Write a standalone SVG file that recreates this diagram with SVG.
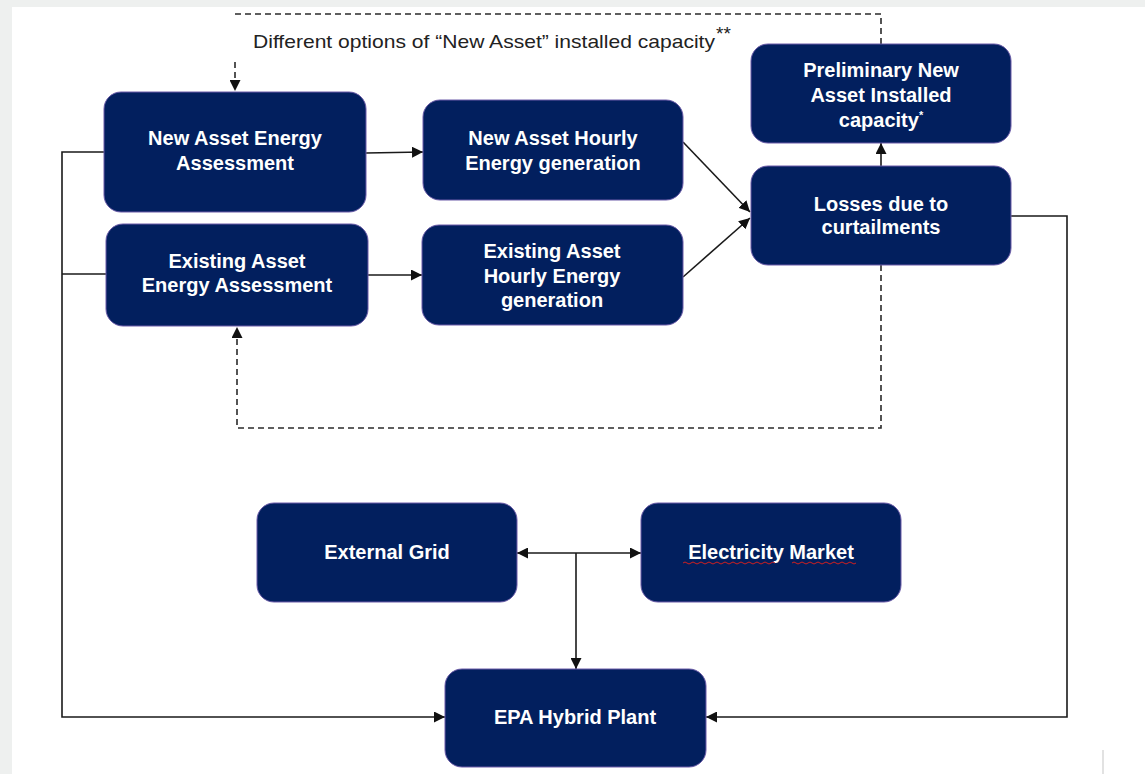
<svg xmlns="http://www.w3.org/2000/svg" width="1145" height="774" viewBox="0 0 1145 774">
<style>
.node rect{fill:#021f5e;stroke:#6a5aa8;stroke-width:1}
.node text{fill:#ffffff;font-family:"Liberation Sans",Arial,sans-serif;font-weight:bold;font-size:20px;text-anchor:middle}
.conn{fill:none;stroke:#1a1a1a;stroke-width:1.6}
.dash{fill:none;stroke:#2a2a2a;stroke-width:1.6;stroke-dasharray:6 4}
.label{fill:#222222;font-family:"Liberation Sans",Arial,sans-serif;font-size:19px}
</style>
<defs>
<marker id="ah" viewBox="0 0 10 10" refX="10" refY="5" markerWidth="11" markerHeight="11" markerUnits="userSpaceOnUse" orient="auto-start-reverse">
<path d="M0,0 L10,5 L0,10 Z" fill="#111111"/>
</marker>
</defs>
<rect x="0" y="0" width="1145" height="774" fill="#eef0ef"/>
<rect x="12" y="7" width="1133" height="767" fill="#ffffff"/>
<line x1="1103" y1="750" x2="1103" y2="774" stroke="#d8d8d8" stroke-width="1.5"/>

<g id="connectors">
<path class="dash" d="M881,44 V14 H235"/>
<path class="dash" d="M235,62 V91" marker-end="url(#ah)"/>
<path class="dash" d="M881,265 V428 H237 V327" marker-end="url(#ah)"/>
<path class="conn" d="M366,153 L423,152" marker-end="url(#ah)"/>
<path class="conn" d="M368,275 L422,275" marker-end="url(#ah)"/>
<path class="conn" d="M683,142 L750,212" marker-end="url(#ah)"/>
<path class="conn" d="M683,277 L750,218" marker-end="url(#ah)"/>
<path class="conn" d="M881,166 V143" marker-end="url(#ah)"/>
<path class="conn" d="M104,152 H62 V717 H445" marker-end="url(#ah)"/>
<path class="conn" d="M106,274 H62"/>
<path class="conn" d="M1011,216 H1067 V717 H706" marker-end="url(#ah)"/>
<path class="conn" d="M517,553 H641" marker-start="url(#ah)" marker-end="url(#ah)"/>
<path class="conn" d="M576,553 V669" marker-end="url(#ah)"/>
</g>

<g id="label-options">
<text class="label" x="253" y="48" textLength="462" lengthAdjust="spacingAndGlyphs">Different options of “New Asset” installed capacity</text>
<text class="label" x="716" y="40" font-size="12">**</text>
</g>

<g id="new-asset-energy-assessment" class="node">
<rect x="104" y="92" width="262" height="120" rx="17"/>
<text x="235" y="145">New Asset Energy</text>
<text x="235" y="170">Assessment</text>
</g>

<g id="new-asset-hourly-energy" class="node">
<rect x="423" y="100" width="260" height="100" rx="17"/>
<text x="553" y="145">New Asset Hourly</text>
<text x="553" y="170">Energy generation</text>
</g>

<g id="existing-asset-energy-assessment" class="node">
<rect x="106" y="224" width="262" height="102" rx="17"/>
<text x="237" y="268">Existing Asset</text>
<text x="237" y="292">Energy Assessment</text>
</g>

<g id="existing-asset-hourly-energy" class="node">
<rect x="422" y="225" width="261" height="100" rx="17"/>
<text x="552" y="258">Existing Asset</text>
<text x="552" y="283">Hourly Energy</text>
<text x="552" y="307">generation</text>
</g>

<g id="preliminary-new-asset" class="node">
<rect x="751" y="44" width="260" height="99" rx="17"/>
<text x="881" y="77">Preliminary New</text>
<text x="881" y="102">Asset Installed</text>
<text x="881" y="127">capacity<tspan font-size="11" dy="-8">*</tspan></text>
</g>

<g id="losses-curtailments" class="node">
<rect x="751" y="166" width="260" height="99" rx="17"/>
<text x="881" y="211">Losses due to</text>
<text x="881" y="234">curtailments</text>
</g>

<g id="external-grid" class="node">
<rect x="257" y="503" width="260" height="99" rx="17"/>
<text x="387" y="559">External Grid</text>
</g>

<g id="electricity-market" class="node">
<rect x="641" y="503" width="260" height="99" rx="17"/>
<text x="771" y="559">Electricity Market</text>
<path d="M683,563 q2,-2 4,0 t4,0 t4,0 t4,0 t4,0 t4,0 t4,0 t4,0 t4,0 t4,0 t4,0 t4,0 t4,0 t4,0 t4,0 t4,0 t4,0 t4,0 t4,0 t4,0 t4,0 t4,0 t4,0 M792,563 q2,-2 4,0 t4,0 t4,0 t4,0 t4,0 t4,0 t4,0 t4,0 t4,0 t4,0 t4,0 t4,0 t4,0 t4,0 t4,0 t4,0" fill="none" stroke="#d02020" stroke-width="1"/>
</g>

<g id="epa-hybrid-plant" class="node">
<rect x="445" y="669" width="261" height="98" rx="17"/>
<text x="575" y="724">EPA Hybrid Plant</text>
</g>
</svg>
